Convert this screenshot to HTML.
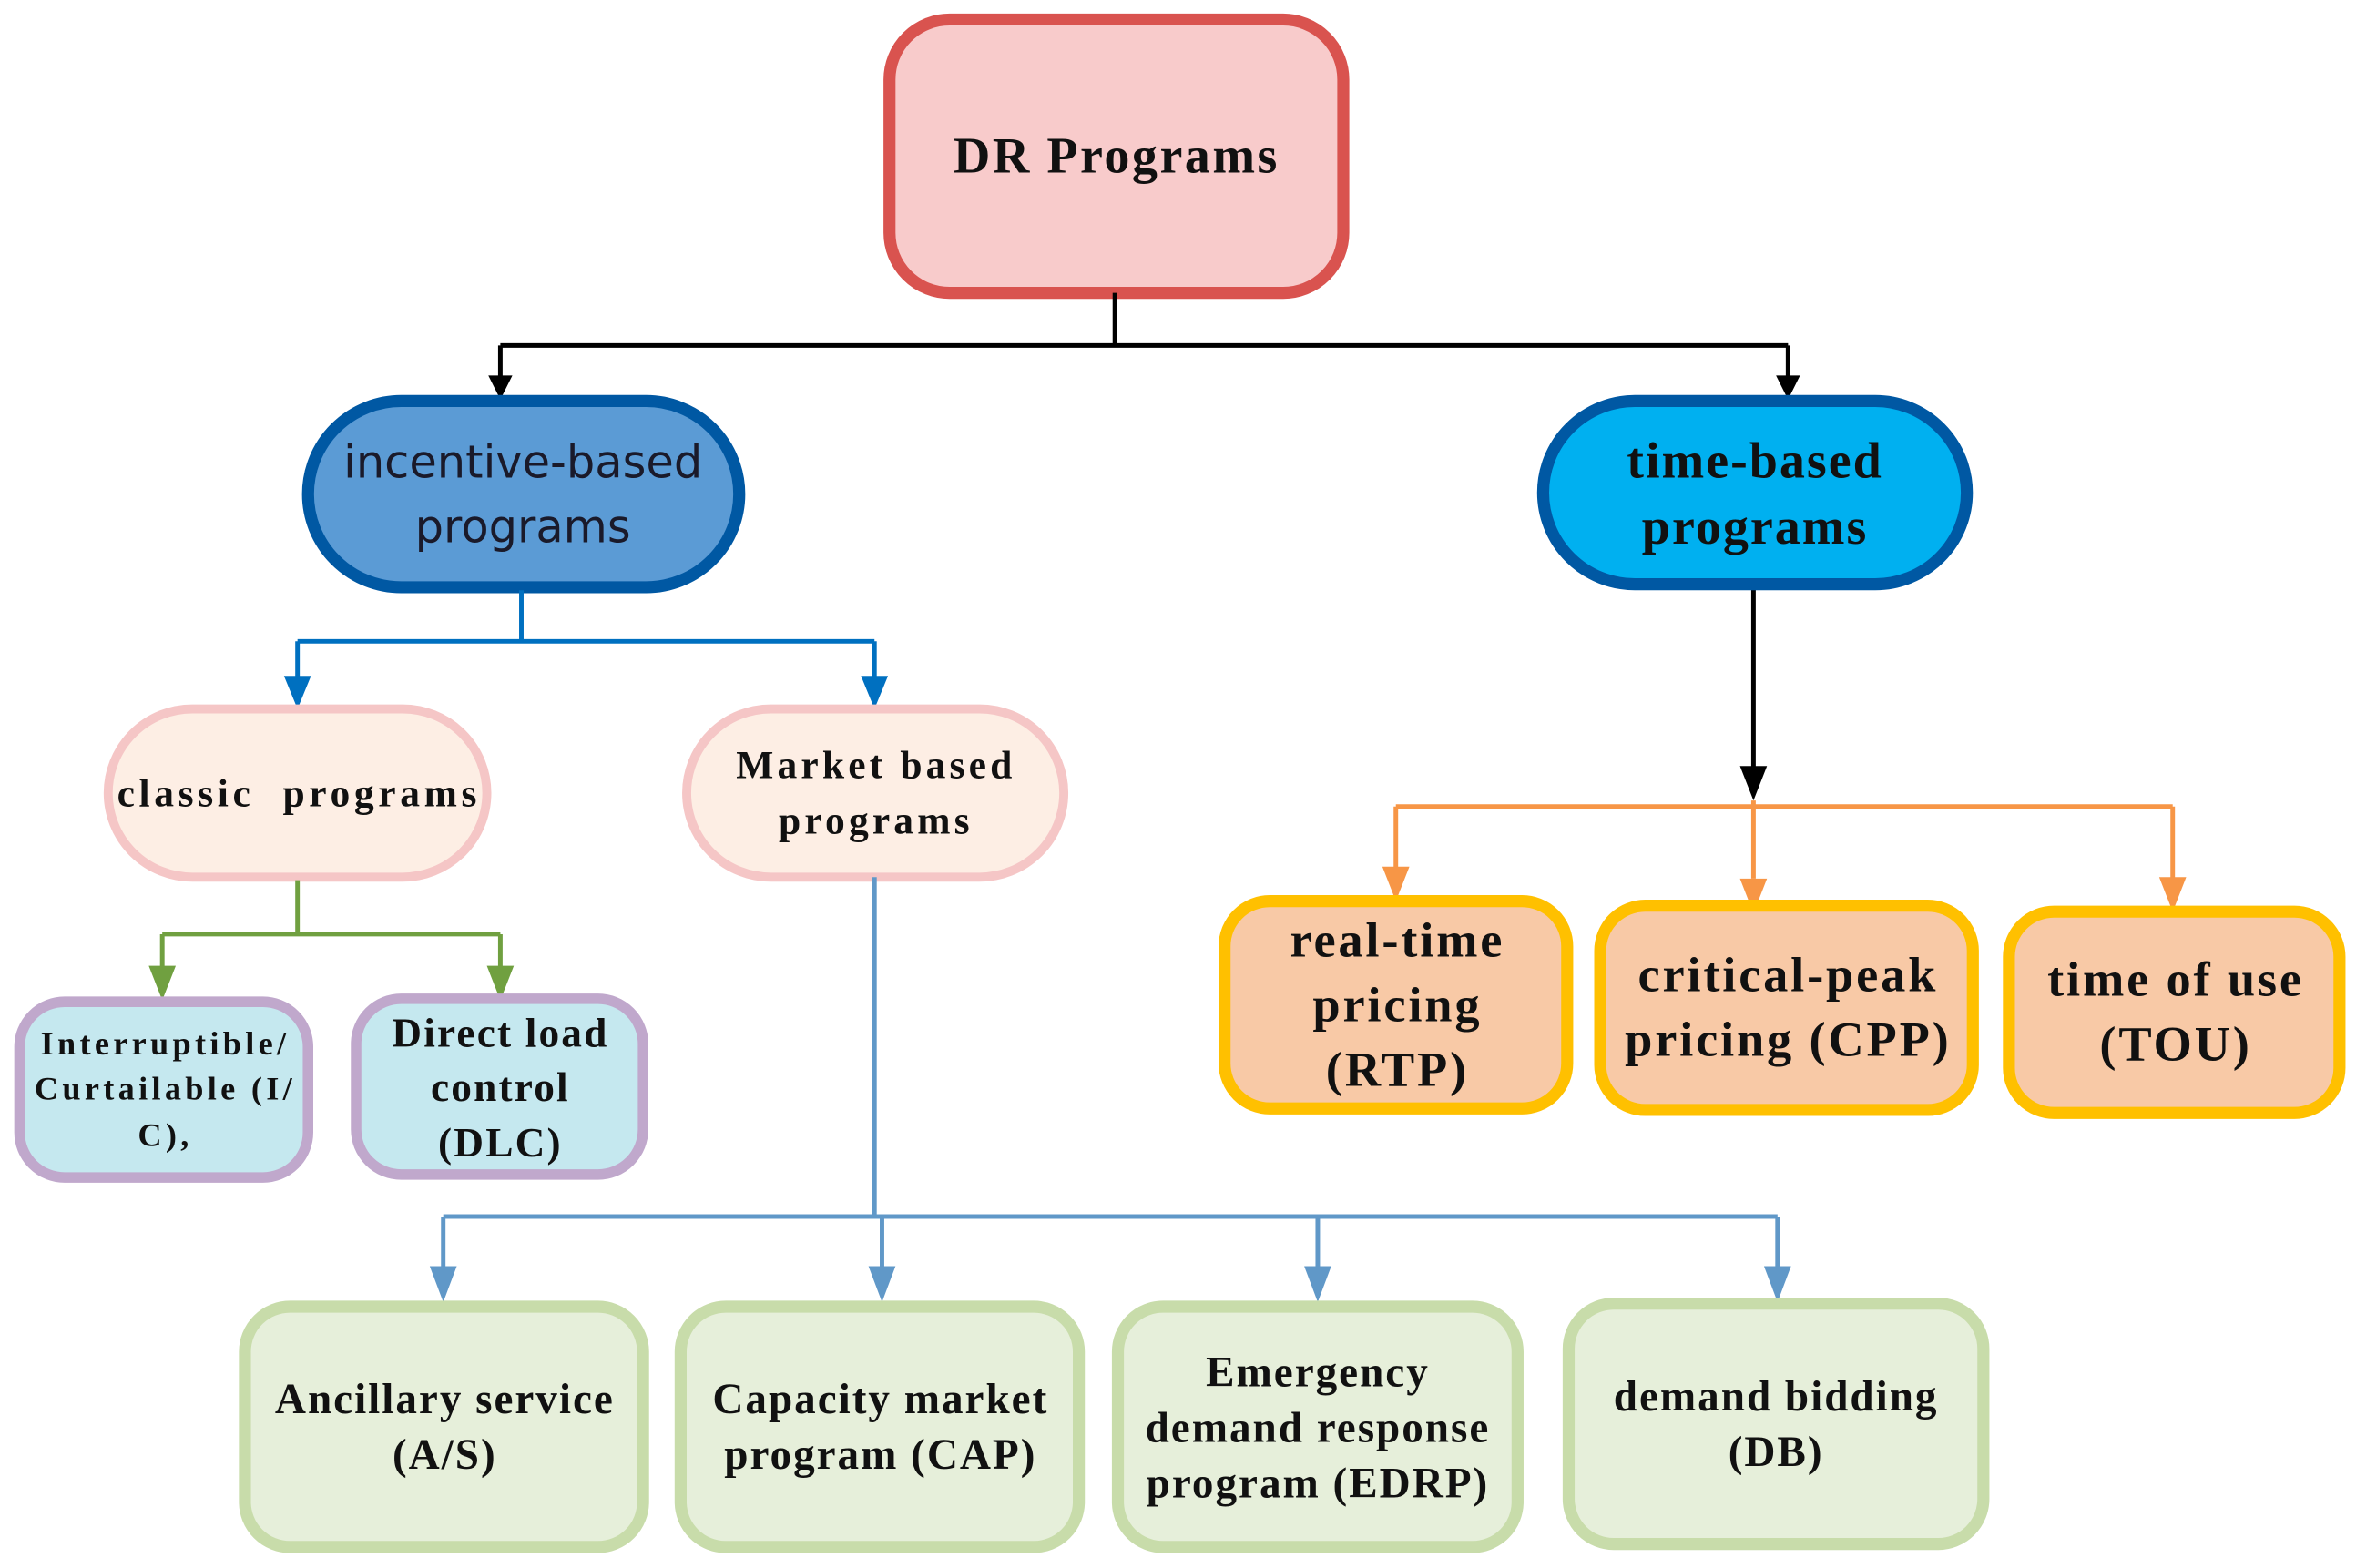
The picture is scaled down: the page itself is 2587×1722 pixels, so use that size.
<!DOCTYPE html>
<html><head><meta charset="utf-8"><style>html,body{margin:0;padding:0;background:#fff}svg{display:block}</style></head>
<body>
<svg width="2587" height="1722" viewBox="0 0 1568 1044" preserveAspectRatio="none" xmlns="http://www.w3.org/2000/svg">
<g font-family="'Liberation Serif',serif" font-weight="bold" text-anchor="middle" fill="#111">
<!-- DR -->
<rect x="592" y="13" width="302" height="182" rx="40" fill="#f8cbcb" stroke="#d9534f" stroke-width="8"/>
<text x="743" y="115" font-size="34" letter-spacing="1.5">DR Programs</text>
<!-- black connectors -->
<g stroke="#000" stroke-width="3" fill="none">
<path d="M742 195 V230 M333 230 H1190 M333 230 V252 M1190 230 V252 M1167 390 V515"/>
</g>
<path d="M325 250 L341 250 L333 266z M1182 250 L1198 250 L1190 266z M1158 510 L1176 510 L1167 533z" fill="#000"/>
<!-- incentive -->
<rect x="205" y="267" width="287" height="124" rx="62" fill="#5b9bd5" stroke="#0058a3" stroke-width="8"/>
<text x="348" y="318" font-size="30" font-weight="normal" font-family="'DejaVu Sans','Liberation Sans',sans-serif" fill="#1a1a2a">incentive-based</text>
<text x="348" y="361" font-size="30" font-weight="normal" font-family="'DejaVu Sans','Liberation Sans',sans-serif" fill="#1a1a2a">programs</text>
<!-- time based -->
<rect x="1027" y="267" width="282" height="122" rx="61" fill="#00b0f0" stroke="#0058a3" stroke-width="8"/>
<text x="1168" y="318" font-size="34" letter-spacing="1.2">time-based</text>
<text x="1168" y="362" font-size="34" letter-spacing="1.2">programs</text>
<!-- blue connectors -->
<g stroke="#0070c0" stroke-width="3" fill="none"><path d="M347 393 V427 M198 427 H582 M198 427 V455 M582 427 V455"/></g>
<path d="M189 450 L207 450 L198 472z M573 450 L591 450 L582 472z" fill="#0070c0"/>
<!-- classic / market -->
<rect x="72" y="472" width="252" height="112" rx="56" fill="#fdeee4" stroke="#f5c6c6" stroke-width="6"/>
<text x="199" y="537" font-size="26.4" letter-spacing="2.8">classic&#160;&#160;programs</text>
<rect x="457" y="472" width="251" height="112" rx="56" fill="#fdeee4" stroke="#f5c6c6" stroke-width="6"/>
<text x="583" y="518" font-size="26.4" letter-spacing="2.5">Market based</text>
<text x="583" y="555" font-size="26.4" letter-spacing="2.5">programs</text>
<!-- green connectors -->
<g stroke="#70a040" stroke-width="3" fill="none"><path d="M198 586 V622 M108 622 H333 M108 622 V648 M333 622 V648"/></g>
<path d="M99 643 L117 643 L108 666z M324 643 L342 643 L333 666z" fill="#70a040"/>
<rect x="13" y="667" width="192" height="117" rx="30" fill="#c5e8ef" stroke="#c0a8cc" stroke-width="7"/>
<g font-size="22" letter-spacing="2.6">
<text x="110" y="702">Interruptible/</text>
<text x="110" y="732">Curtailable (I/</text>
<text x="110" y="763">C),</text>
</g>
<rect x="237" y="665" width="191" height="117" rx="30" fill="#c5e8ef" stroke="#c0a8cc" stroke-width="7"/>
<g font-size="27.5" letter-spacing="1.3">
<text x="333" y="697">Direct load</text>
<text x="333" y="733">control</text>
<text x="333" y="770">(DLC)</text>
</g>
<!-- market connectors -->
<g stroke="#6098c8" stroke-width="3" fill="none"><path d="M582 584 V810 M295 810 H1183 M295 810 V848 M587 810 V848 M877 810 V848 M1183 810 V848"/></g>
<path d="M286 843 L304 843 L295 867z M578 843 L596 843 L587 867z M868 843 L886 843 L877 867z M1174 843 L1192 843 L1183 867z" fill="#6098c8"/>
<!-- bottom boxes -->
<g fill="#e6efda" stroke="#c8dcaa" stroke-width="8">
<rect x="163" y="870" width="265" height="160" rx="30"/>
<rect x="453" y="870" width="265" height="160" rx="30"/>
<rect x="744" y="870" width="266" height="160" rx="30"/>
<rect x="1044" y="868" width="276" height="160" rx="30"/>
</g>
<g font-size="28.6" letter-spacing="1.2">
<text x="296" y="941">Ancillary service</text><text x="296" y="978">(A/S)</text>
<text x="586" y="941">Capacity market</text><text x="586" y="978">program (CAP)</text>
<text x="877" y="923">Emergency</text><text x="877" y="960">demand response</text><text x="877" y="997">program (EDRP)</text>
<text x="1182" y="939">demand bidding</text><text x="1182" y="976">(DB)</text>
</g>
<!-- orange connectors -->
<g stroke="#f79646" stroke-width="3" fill="none"><path d="M929 537 H1446 M929 537 V580 M1167 533 V585 M1446 537 V585"/></g>
<path d="M920 577 L938 577 L929 600z M1158 585 L1176 585 L1167 608z M1437 584 L1455 584 L1446 607z" fill="#f79646"/>
<g fill="#f8c9a6" stroke="#ffc000" stroke-width="8">
<rect x="815" y="600" width="228" height="138" rx="30"/>
<rect x="1065" y="603" width="248" height="136" rx="30"/>
<rect x="1337" y="607" width="220" height="134" rx="30"/>
</g>
<g font-size="33" letter-spacing="1.7">
<text x="930" y="637">real-time</text><text x="930" y="680">pricing</text><text x="930" y="723">(RTP)</text>
<text x="1190" y="660">critical-peak</text><text x="1190" y="703">pricing (CPP)</text>
<text x="1448" y="663">time of use</text><text x="1448" y="706">(TOU)</text>
</g>
</g>
</svg>
</body></html>
